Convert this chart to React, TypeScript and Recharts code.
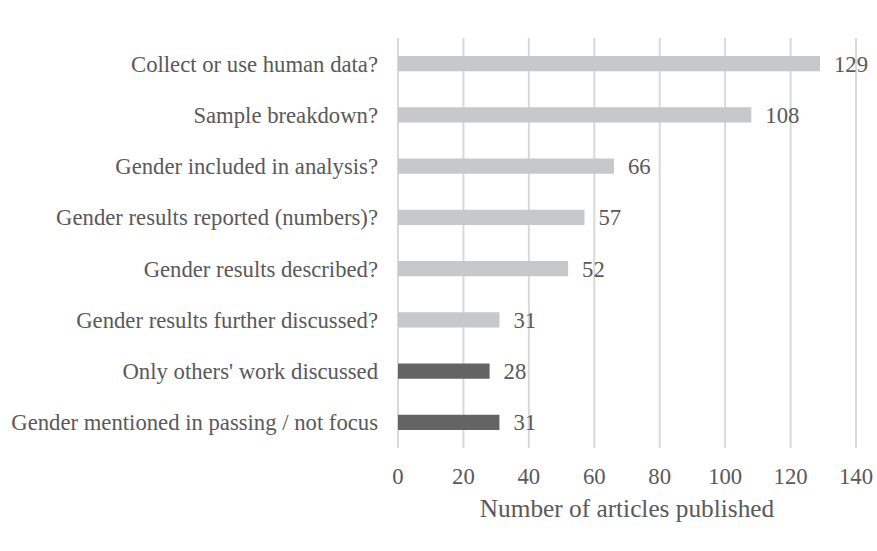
import * as React from "react";
import { BarChart, Bar, XAxis, YAxis, CartesianGrid, Cell, LabelList, Label } from "recharts";

// Questions asked of each article, top to bottom
const categories = [
  "Collect or use human data?",
  "Sample breakdown?",
  "Gender included in analysis?",
  "Gender results reported (numbers)?",
  "Gender results described?",
  "Gender results further discussed?",
  "Only others' work discussed",
  "Gender mentioned in passing / not focus",
];
const articleCounts = [129, 108, 66, 57, 52, 31, 28, 31];
// "primary" = own data path, "secondary" = no own gender analysis
const groups = ["primary", "primary", "primary", "primary", "primary", "primary", "secondary", "secondary"];
const xTicks = [0, 20, 40, 60, 80, 100, 120, 140];

const COR_CLARA = "#c7c8c9";
const COR_ESCURA = "#646464";
const COR_GRADE = "#d9d9d9";
const COR_TEXTO = "#595959";
const FONTE = "Liberation Serif";

const dados = categories.map((name, i) => ({ name, value: articleCounts[i], group: groups[i] }));

export default function App() {
  return (
    <div
      style={{
        position: "absolute",
        left: 0,
        top: 0,
        width: 877,
        height: 551,
        background: "#fff",
        fontFamily: FONTE,
      }}
    >
      <BarChart
        width={877}
        height={551}
        data={dados}
        layout="vertical"
        margin={{ top: 38, right: 21, left: 0, bottom: 30 }}
        barCategoryGap="65%"
        style={{ fontFamily: FONTE }}
      >
        <CartesianGrid horizontal={false} stroke={COR_GRADE} strokeWidth={2} />
        <XAxis
          type="number"
          domain={[0, 140]}
          ticks={xTicks}
          axisLine={false}
          tickLine={false}
          tickSize={0}
          tickMargin={20}
          tick={{ fontSize: 22.7, fill: COR_TEXTO, fontFamily: FONTE }}
          height={73}
        >
          <Label
            value="Number of articles published"
            position="insideBottom"
            offset={4}
            style={{ fontSize: 25.3, fill: COR_TEXTO, fontFamily: FONTE }}
          />
        </XAxis>
        <YAxis
          type="category"
          dataKey="name"
          width={398}
          axisLine={false}
          tickLine={false}
          tickSize={0}
          tickMargin={20}
          interval={0}
          tick={{ fontSize: 22.7, fill: COR_TEXTO, fontFamily: FONTE }}
        />
        <Bar dataKey="value" isAnimationActive={false}>
          {dados.map((d, i) => (
            <Cell key={i} fill={d.group === "secondary" ? COR_ESCURA : COR_CLARA} />
          ))}
          <LabelList
            dataKey="value"
            position="right"
            offset={14}
            style={{ fontSize: 22.7, fill: COR_TEXTO, fontFamily: FONTE }}
          />
        </Bar>
      </BarChart>
    </div>
  );
}
